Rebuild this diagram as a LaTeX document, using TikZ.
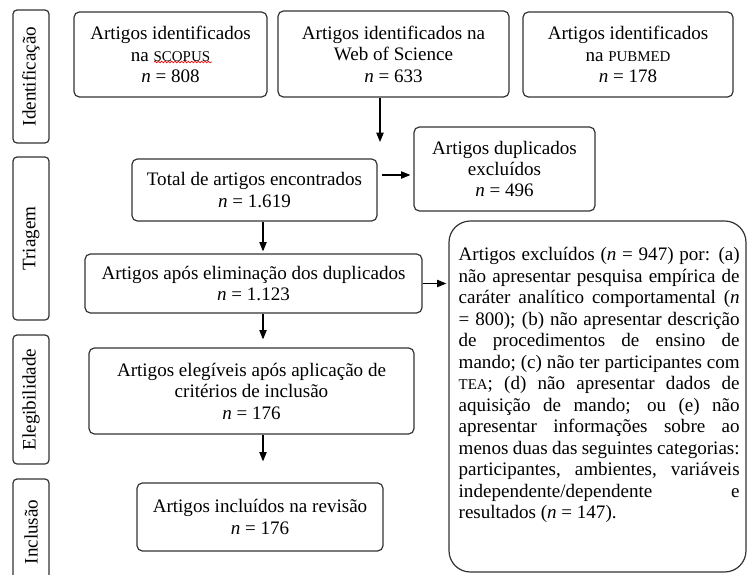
\documentclass[tikz,border=0pt]{standalone}
\usepackage{fontspec}
\setmainfont{Liberation Serif}
\usetikzlibrary{arrows.meta,calc,decorations.pathmorphing}
\newcommand\px[1]{#1*0.75pt}
\newcommand\jline[1]{\noindent\makebox[\linewidth][s]{#1}\par}
\newcommand\smc[1]{{\fontsize{11.2}{13}\selectfont #1}}
\newcommand\mainfs{\fontsize{14.3}{16.1}\selectfont}
\begin{document}
\begin{tikzpicture}[x=0.75pt,y=-0.75pt,
  box/.style={draw=black!80, line width=0.9pt, rounded corners=4pt, align=center, inner sep=0pt, font=\mainfs},
  side/.style={draw=black!80, line width=0.9pt, rounded corners=3pt, rotate=90, inner sep=0pt, font=\mainfs},
  arr/.style={draw=black, line width=0.8pt, -{Triangle[length=7pt,width=5.5pt]}}]
\useasboundingbox (0,0) rectangle (747,575);

% side labels
\node[side, minimum width=\px{133}, minimum height=\px{36}] (ident) at (31,76.5) {Identificação};
\node[side, minimum width=\px{163}, minimum height=\px{36}] (triag) at (31,238.5) {Triagem};
\node[side, minimum width=\px{129}, minimum height=\px{36}] (elegs) at (31,399.5) {Elegibilidade};
\node[side, minimum width=\px{106}, minimum height=\px{36}] (incls) at (31,532) {Inclusão};

% boxes
\node[box, minimum width=\px{193}, minimum height=\px{85}] (scopus) at (170.5,54.5)
  {Artigos identificados\\na \smc{SCOPUS}\\\textit{n} = 808};
\node[box, minimum width=\px{231}, minimum height=\px{86}] (wos) at (393.5,54)
  {Artigos identificados na\\Web of Science\\\textit{n} = 633};
\node[box, minimum width=\px{210}, minimum height=\px{85}] (pubmed) at (628,54.5)
  {Artigos identificados\\na \smc{PUBMED}\\\textit{n} = 178};
\node[box, minimum width=\px{245}, minimum height=\px{62}] (total) at (254.5,190)
  {Total de artigos encontrados\\\textit{n} = 1.619};
\node[box, minimum width=\px{181}, minimum height=\px{84}] (dup) at (504.5,169)
  {Artigos duplicados\\excluídos\\\textit{n} = 496};
\node[box, minimum width=\px{337}, minimum height=\px{59}] (apos) at (253.5,283.5)
  {Artigos após eliminação dos duplicados\\\textit{n} = 1.123};
\node[box, minimum width=\px{325}, minimum height=\px{86}] (eleg) at (251.5,391)
  {Artigos elegíveis após aplicação de\\critérios de inclusão\\\textit{n} = 176};
\node[box, minimum width=\px{246}, minimum height=\px{68}] (incl) at (260,517)
  {Artigos incluídos na revisão\\\textit{n} = 176};
\node[box, rounded corners=16pt, minimum width=\px{297}, minimum height=\px{351}] (excl) at (597.5,396.5) {};
\node[anchor=north west, inner sep=0pt, font=\mainfs] (excltxt) at ($(excl.north west)+(10,27)$)
  {\parbox{210.75pt}{\mainfs
   \jline{Artigos excluídos (\textit{n} = 947) por: (a)}
   \jline{não apresentar pesquisa empírica de}
   \jline{caráter analítico comportamental (\textit{n}}
   \jline{= 800); (b) não apresentar descrição}
   \jline{de procedimentos de ensino de}
   \jline{mando; (c) não ter participantes com}
   \jline{\smc{TEA}; (d) não apresentar dados de}
   \jline{aquisição de mando; ou (e) não}
   \jline{apresentar informações sobre ao}
   \jline{menos duas das seguintes categorias:}
   \jline{participantes, ambientes, variáveis}
   \jline{independente/dependente e}
   \noindent resultados (\textit{n} = 147).}};

% spell-check underline
\draw[red, line width=0.5pt, decorate, decoration={snake, amplitude=0.6pt, segment length=2.5pt}] (154,62) -- (212,62);

% connectors
\coordinate (wosend) at (380,142);
\coordinate (col) at (263,0);
\draw[arr] (wos.south -| wosend) -- (wosend);
\draw[arr, shorten >=2.25pt] ($(total.east)+(4,-15)$) coordinate (t1) -- (t1 -| dup.west);
\draw[arr, shorten >=1.5pt] (total.south -| col) -- (apos.north -| col);
\draw[arr, shorten >=1.5pt] (apos.east) -- (apos.east -| excl.west);
\draw[arr, shorten >=6pt] (apos.south -| col) -- (eleg.north -| col);
\draw[arr, shorten >=15.75pt] (eleg.south -| col) -- (incl.north -| col);
\end{tikzpicture}
\end{document}
